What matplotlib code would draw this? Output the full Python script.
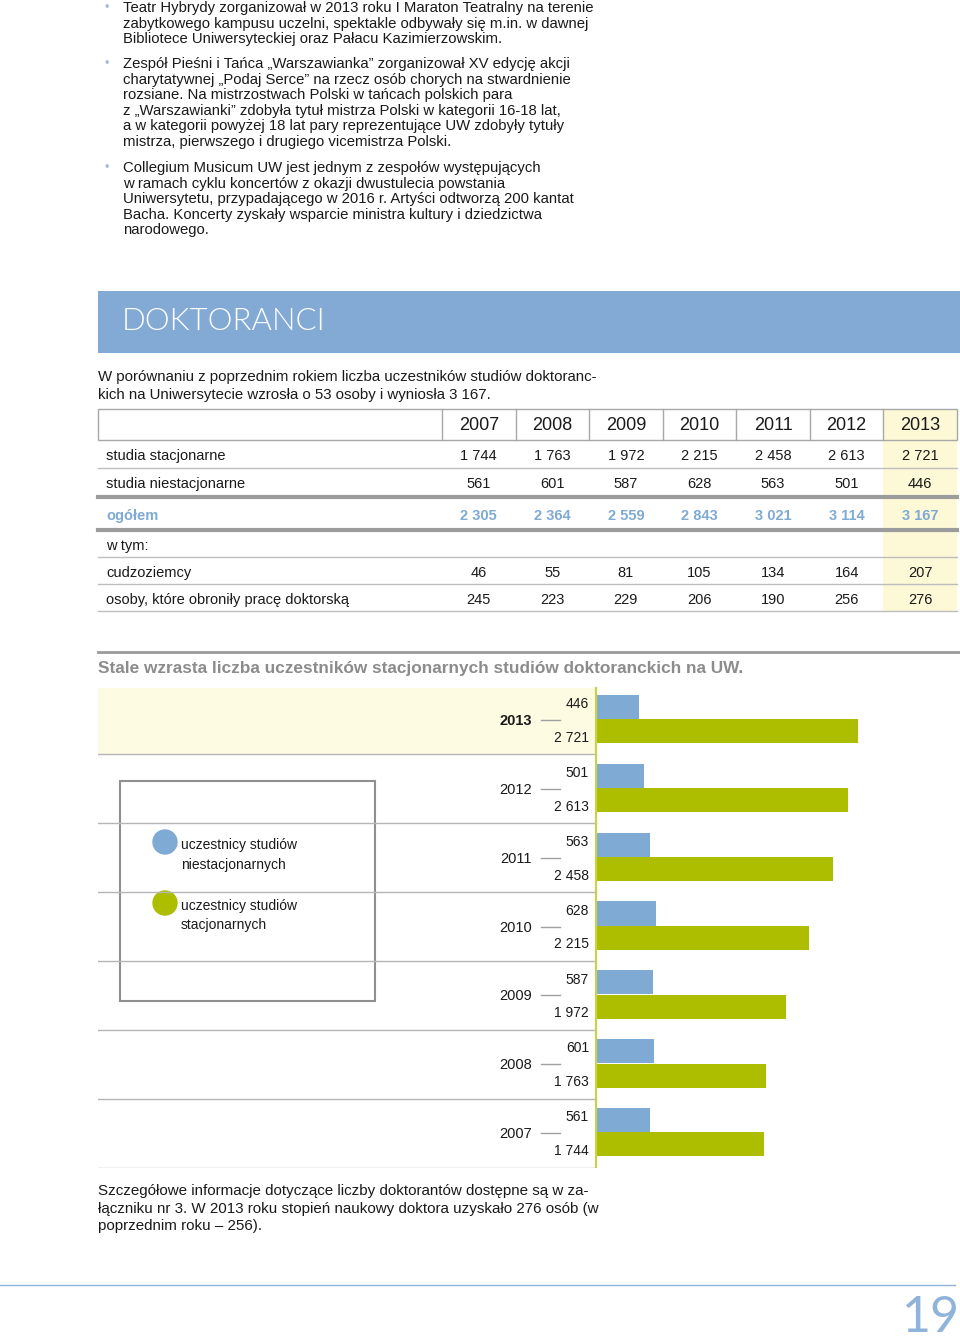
import matplotlib
matplotlib.use("Agg")
import matplotlib.pyplot as plt
from matplotlib.patches import Rectangle, Circle
from matplotlib import font_manager

# ---------------- data ----------------
years = ["2007", "2008", "2009", "2010", "2011", "2012", "2013"]
stacjonarne = [1744, 1763, 1972, 2215, 2458, 2613, 2721]
niestacjonarne = [561, 601, 587, 628, 563, 501, 446]
ogolem = [2305, 2364, 2559, 2843, 3021, 3114, 3167]
cudzoziemcy = [46, 55, 81, 105, 134, 164, 207]
obronili = [245, 223, 229, 206, 190, 256, 276]

row_labels = ["studia stacjonarne", "studia niestacjonarne", "ogółem", "w tym:",
              "cudzoziemcy", "osoby, które obroniły pracę doktorską"]

bullets = [
    ["Teatr Hybrydy zorganizował w 2013 roku I Maraton Teatralny na terenie",
     "zabytkowego kampusu uczelni, spektakle odbywały się m.in. w dawnej",
     "Bibliotece Uniwersyteckiej oraz Pałacu Kazimierzowskim."],
    ["Zespół Pieśni i Tańca „Warszawianka” zorganizował XV edycję akcji",
     "charytatywnej „Podaj Serce” na rzecz osób chorych na stwardnienie",
     "rozsiane. Na mistrzostwach Polski w tańcach polskich para",
     "z „Warszawianki” zdobyła tytuł mistrza Polski w kategorii 16-18 lat,",
     "a w kategorii powyżej 18 lat pary reprezentujące UW zdobyły tytuły",
     "mistrza, pierwszego i drugiego vicemistrza Polski."],
    ["Collegium Musicum UW jest jednym z zespołów występujących",
     "w ramach cyklu koncertów z okazji dwustulecia powstania",
     "Uniwersytetu, przypadającego w 2016 r. Artyści odtworzą 200 kantat",
     "Bacha. Koncerty zyskały wsparcie ministra kultury i dziedzictwa",
     "narodowego."],
]
intro = ["W porównaniu z poprzednim rokiem liczba uczestników studiów doktoranc-",
         "kich na Uniwersytecie wzrosła o 53 osoby i wyniosła 3 167."]
outro = ["Szczegółowe informacje dotyczące liczby doktorantów dostępne są w za-",
         "łączniku nr 3. W 2013 roku stopień naukowy doktora uzyskało 276 osób (w",
         "poprzednim roku – 256)."]
chart_title = "Stale wzrasta liczba uczestników stacjonarnych studiów doktoranckich na UW."
legend_labels = [["uczestnicy studiów", "niestacjonarnych"],
                 ["uczestnicy studiów", "stacjonarnych"]]

# ---------------- style ----------------
BLUE = "#7eaad4"
GREEN = "#adbe00"
HEAD = "#82aad4"
CREAM = "#fdfbe2"
TXT = "#1a1a1a"
GRAY = "#a8a8a8"

names = {f.name for f in font_manager.fontManager.ttflist}
NARROW = "Liberation Sans Narrow" if "Liberation Sans Narrow" in names else "Liberation Sans"
SANS = ["Liberation Sans", "DejaVu Sans"]
NSANS = [NARROW, "Liberation Sans", "DejaVu Sans"]
LIGHT = ["Lato", "DejaVu Sans"]


def fmt(v):
    return f"{v:,}".replace(",", " ")


fig = plt.figure(figsize=(9.6, 13.4), dpi=100)
page = fig.add_axes([0, 0, 1, 1])
page.set_xlim(0, 960)
page.set_ylim(1340, 0)
page.axis("off")

# ---------------- top bullet text ----------------
y0s = [8, 64, 168]
for y0, para in zip(y0s, bullets):
    page.text(107, y0, "•", color="#a9bdd2", fontsize=9, va="center", ha="center", family=SANS)
    for j, line in enumerate(para):
        page.text(123, y0 + j * 15.6, line, fontsize=10.75, color=TXT, va="center", family=SANS)

# ---------------- header band ----------------
page.add_patch(Rectangle((98, 291), 862, 62, color=HEAD, lw=0))
page.text(122, 321, "DOKTORANCI", color="white", fontsize=22.5, va="center",
          family=LIGHT, fontweight=300)

for j, line in enumerate(intro):
    page.text(98, 377 + j * 17.5, line, fontsize=10.8, color=TXT, va="center", family=NSANS)

# ---------------- table ----------------
col0 = 442
cw = (957 - 442) / 7
page.add_patch(Rectangle((col0 + 6 * cw, 409), cw, 611 - 409, color="#fdf8d6", lw=0, zorder=0))
page.add_patch(Rectangle((98, 409), 957 - 98, 31, fill=False, ec=GRAY, lw=1))
for i in range(7):
    page.plot([col0 + i * cw] * 2, [409, 440], color=GRAY, lw=1)
for i, yr in enumerate(years):
    page.text(col0 + (i + 0.5) * cw, 425.5, yr, fontsize=13, ha="center", va="center",
              color=TXT, family=NSANS)

row_y = [456, 484, 516, 546, 573, 600]
row_vals = [stacjonarne, niestacjonarne, ogolem, None, cudzoziemcy, obronili]
for r, (lab, yv, vals) in enumerate(zip(row_labels, row_y, row_vals)):
    c = BLUE if r == 2 else TXT
    fw = "bold" if r == 2 else "normal"
    page.text(106, yv, lab, fontsize=10.5, color=c, va="center", family=NSANS, fontweight=fw)
    if vals is not None:
        for i, v in enumerate(vals):
            page.text(col0 + (i + 0.5) * cw, yv, fmt(v), fontsize=10.5, color=c, ha="center",
                      va="center", family=NSANS, fontweight=fw)

for yl in [468, 557, 584, 611]:
    page.plot([98, 957], [yl, yl], color="#bdbdbd", lw=1)
for yl in [497, 530]:
    page.plot([98, 957], [yl, yl], color="#9c9c9c", lw=3)

# ---------------- chart title ----------------
page.plot([98, 960], [652, 652], color="#9a9a9a", lw=2)
page.text(98, 668, chart_title, fontsize=12.4, color="#8c8c8c", fontweight="bold",
          va="center", family=NSANS)

# ---------------- bar chart ----------------
AX_L, AX_R = 98, 960
AX_T, AX_B = 685.6, 1167.5
ZERO_PX = 596
K = 262 / 2721  # pixels per unit
bar_ax = fig.add_axes([AX_L / 960, 1 - AX_B / 1340, (AX_R - AX_L) / 960, (AX_B - AX_T) / 1340])
bar_ax.patch.set_visible(False)
bar_ax.axis("off")
bar_ax.set_xlim(-(ZERO_PX - AX_L) / K, (AX_R - ZERO_PX) / K)
bar_ax.set_ylim(6.5, -0.5)

n = len(years)
ypos = [n - 1 - i for i in range(n)]
xmin = bar_ax.get_xlim()[0]

bar_ax.add_patch(Rectangle((xmin, -0.47), -xmin, 0.97, color=CREAM, lw=0, zorder=0))
for b in range(n):
    bar_ax.plot([xmin, 0], [b + 0.5, b + 0.5], color="#b5b5b5", lw=1, zorder=1)

bar_ax.barh([y - 0.19 for y in ypos], niestacjonarne, height=0.35, color=BLUE, zorder=2)
bar_ax.barh([y + 0.165 for y in ypos], stacjonarne, height=0.35, color=GREEN, zorder=2)
bar_ax.plot([0, 0], [-0.47, 6.5], color="#c9d24a", lw=1.6, zorder=3)

for i, y in enumerate(ypos):
    bar_ax.annotate(fmt(niestacjonarne[i]), xy=(0, y - 0.23), xytext=(-7, 0),
                    textcoords="offset pixels", ha="right", va="center",
                    fontsize=10, color=TXT, family=SANS)
    bar_ax.annotate(fmt(stacjonarne[i]), xy=(0, y + 0.26), xytext=(-7, 0),
                    textcoords="offset pixels", ha="right", va="center",
                    fontsize=10, color=TXT, family=SANS)
    bar_ax.annotate(years[i], xy=(0, y + 0.015), xytext=(-64, 0), textcoords="offset pixels",
                    ha="right", va="center", fontsize=10.5, color=TXT, family=SANS,
                    fontweight="bold" if i == n - 1 else "normal")
    bar_ax.plot([-55 / K, -36 / K], [y, y], color="#a0a0a0", lw=1, zorder=1)

# legend box
page.add_patch(Rectangle((120, 781), 255, 220, facecolor="white", edgecolor="#8f8f8f",
                         lw=1.5, zorder=5))
for k, (col, lines) in enumerate(zip([BLUE, GREEN], legend_labels)):
    cy = 842 + k * 61
    page.add_patch(Circle((165, cy), 12, color=col, zorder=6))
    for j, line in enumerate(lines):
        page.text(181, cy + 3 + j * 19.5, line, fontsize=10, color=TXT, va="center",
                  family=SANS, zorder=7)

# ---------------- bottom text ----------------
for j, line in enumerate(outro):
    page.text(98, 1191 + j * 17.5, line, fontsize=10.9, color=TXT, va="center", family=SANS)

page.plot([0, 955], [1285, 1285], color="#8fb3d9", lw=1)
page.text(931, 1318, "19", fontsize=36, color="#8fb3d9", ha="center", va="center",
          family=LIGHT, fontweight="normal")

fig.savefig("out.png", dpi=100)
